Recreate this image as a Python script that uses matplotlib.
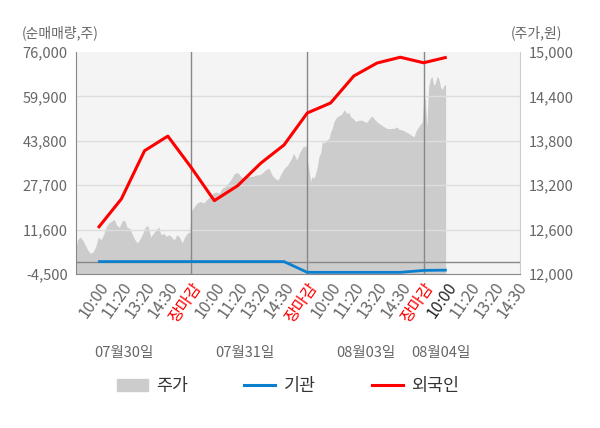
import matplotlib
matplotlib.use("Agg")
import matplotlib.pyplot as plt
import matplotlib.transforms as mtransforms
from matplotlib.patches import Patch
from matplotlib.lines import Line2D
import numpy as np

plt.rcParams['font.family'] = ['Noto Sans CJK KR', 'DejaVu Sans']

# x tick labels (5 slots per trading day)
tick_labels = ["10:00", "11:20", "13:20", "14:30", "장마감",
               "10:00", "11:20", "13:20", "14:30", "장마감",
               "10:00", "11:20", "13:20", "14:30", "장마감",
               "10:00", "11:20", "13:20", "14:30"]
day_labels = ["07월30일", "07월31일", "08월03일", "08월04일"]

# net buying volume (shares) at label slots 1..16
foreign = [12200, 22700, 40200, 45500, 34200, 22100, 27500, 35700, 42300,
           53900, 57500, 67300, 72000, 74100, 72100, 74100]
institution = [0, 0, 0, 0, 0, 0, 0, 0, 0,
               -3900, -3900, -3900, -3900, -3900, -3200, -3100]

# stock price (won), intraday, per day
price_d1 = [12260, 12460, 12500, 12460, 12390, 12320, 12280, 12300, 12370, 12500,
            12460, 12530, 12640, 12690, 12710, 12740, 12660, 12630, 12710, 12730,
            12630, 12620, 12530, 12460, 12420, 12480, 12550, 12640, 12650, 12500,
            12550, 12590, 12640, 12530, 12550, 12510, 12530, 12500, 12460, 12530,
            12500, 12420, 12500, 12550, 12570]
price_d2 = [12840, 12910, 12960, 12980, 12960, 13000, 13050, 13090, 13110, 13090,
            13160, 13180, 13230, 13290, 13360, 13370, 13320, 13290, 13320, 13320,
            13320, 13340, 13340, 13370, 13410, 13430, 13340, 13290, 13270, 13360,
            13430, 13470, 13540, 13630, 13540, 13650, 13720, 13730]
price_d3 = [13540, 13410, 13250, 13320, 13290, 13360, 13450, 13590, 13630, 13790,
            13770, 13790, 13815, 13830, 13920, 13970, 14060, 14100, 14125, 14140,
            14150, 14170, 14220, 14190, 14170, 14180, 14125, 14110, 14090, 14060,
            14070, 14075, 14080, 14075, 14065, 14045, 14060, 14090, 14125, 14130,
            14100, 14075, 14050, 14035, 14020, 14005, 13990, 13975, 13965, 13965,
            13965, 13970, 13965, 13985, 13980, 13955, 13950, 13945, 13935, 13920,
            13910, 13900, 13880, 13865, 13855, 13920, 13965, 13995, 14030, 14060]
price_d4 = [14350, 14370, 13990, 14530, 14640, 14670, 14550, 14580, 14670, 14640,
            14530, 14490, 14550, 14560]

px, py = [], []
for i, d in enumerate([price_d1, price_d2, price_d3]):
    px.append(np.linspace(i * 5, i * 5 + 4.95, len(d)))
    py.append(d)
px.append(np.linspace(15, 15.95, len(price_d4)))
py.append(price_d4)
px = np.concatenate(px)
py = np.concatenate(py)

fig = plt.figure(figsize=(6, 4.28), dpi=100)
ax = fig.add_axes([76 / 600, 1 - 274 / 428, 444 / 600, 222 / 428])
ax.set_facecolor("#f4f4f4")
ax2 = ax.twinx()

# price area (right axis)
ax.fill_between(px, 12000, py, color="#cccccc", lw=0, zorder=1)
ax.set_ylim(12000, 15000)
rt = np.arange(12000, 15001, 600)
ax.set_yticks(rt)
ax.set_yticklabels([f"{v:,}" for v in rt])
ax.yaxis.tick_right()
for v in rt[1:-1]:
    ax.axhline(v, color="#dddddd", lw=1, zorder=2)
for v in [5, 10, 15]:
    ax.axvline(v, color="#888888", lw=1, zorder=3)

ax.set_xlim(0.05, 19.15)
ax.set_xticks(np.arange(1, 20))
ax.set_xticklabels(tick_labels, rotation=55, ha="right", va="top",
                   rotation_mode="anchor")
ax.set_xticks([5, 10, 15], minor=True)
ax.tick_params(axis="x", which="major", length=0, pad=4, labelsize=11.5, colors="#666666")
ax.tick_params(axis="x", which="minor", length=5, color="#888888")
ax.tick_params(axis="y", length=0, pad=6, labelsize=10.5, colors="#666666")
for lab in ax.get_xticklabels():
    if lab.get_text() == "장마감":
        lab.set_color("#ff0000")
ax.get_xticklabels()[15].set_color("#222222")

ax.spines["top"].set_visible(False)
ax.spines["left"].set_color("#888888")
ax.spines["bottom"].set_color("#888888")
ax.spines["right"].set_color("#cccccc")

# volume lines (left axis)
ax2.set_ylim(-4500, 76000)
lt = np.arange(-4500, 76001, 16100)
ax2.set_yticks(lt)
ax2.set_yticklabels([f"{v:,}" for v in lt])
ax2.yaxis.tick_left()
ax2.tick_params(axis="y", length=0, pad=6, labelsize=10.5, colors="#666666")
for s in ax2.spines.values():
    s.set_visible(False)
ax2.axhline(0, color="#888888", lw=1, zorder=1)
xs = np.arange(1, len(foreign) + 1)
ax2.plot(xs, institution, color="#0a7fcf", lw=2, zorder=3, solid_capstyle="butt")
ax2.plot(xs, foreign, color="#ff0000", lw=2.2, zorder=4, solid_capstyle="butt")

trans = mtransforms.blended_transform_factory(ax.transData, ax.transAxes)
for x, t in zip([2.1, 7.3, 12.5, 15.75], day_labels):
    ax.text(x, -0.356, t, transform=trans, ha="center", va="center",
            fontsize=10.5, color="#666666")

fig.text(22 / 600, 1 - 33 / 428, "(순매매량,주)", fontsize=10, color="#666666",
         ha="left", va="center")
fig.text(562 / 600, 1 - 33 / 428, "(주가,원)", fontsize=10, color="#666666",
         ha="right", va="center")

handles = [Patch(color="#cccccc"),
           Line2D([], [], color="#0a7fcf", lw=2.2),
           Line2D([], [], color="#ff0000", lw=2.2)]
fig.legend(handles, ["주가", "기관", "외국인"], loc="center",
           bbox_to_anchor=(288 / 600, 1 - 386 / 428), ncol=3, frameon=False,
           fontsize=12.5, handlelength=1.8, handletextpad=0.5, columnspacing=3.2,
           labelcolor="#333333")

fig.savefig("out.png", dpi=100)
